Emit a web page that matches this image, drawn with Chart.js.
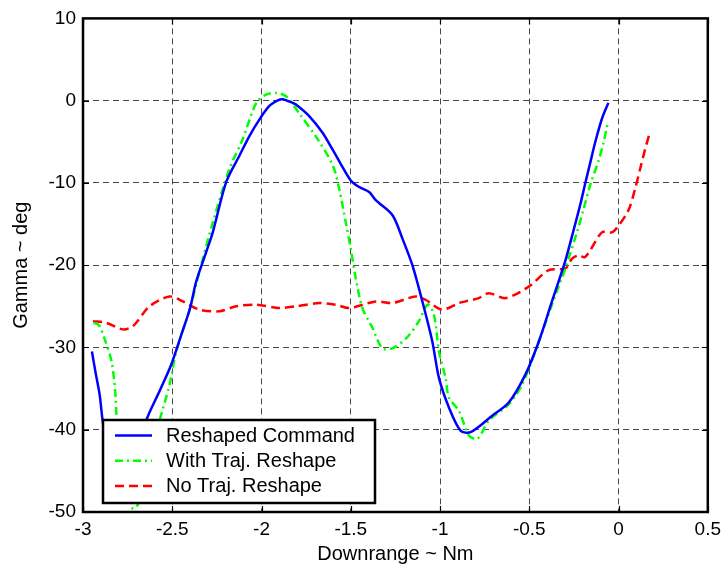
<!DOCTYPE html>
<html>
<head>
<meta charset="utf-8">
<script src="https://cdn.jsdelivr.net/npm/chart.js@4/dist/chart.umd.min.js"></script>
<style>
  html, body { margin: 0; padding: 0; background: #fff; }
  #wrap { width: 727px; height: 568px; }
</style>
</head>
<body>
<div id="wrap"><canvas id="c" width="727" height="568"></canvas></div>
<script>
// ---- data ----
const seriesNames = ['Reshaped Command', 'With Traj. Reshape', 'No Traj. Reshape'];

const cmdX = [-2.95,-2.93,-2.907,-2.89,-2.86,-2.82,-2.78,-2.74,-2.70,-2.646,-2.571,-2.506,-2.45,-2.40,-2.366,-2.31,-2.273,-2.198,-2.124,-2.068,-2.012,-1.956,-1.906,-1.882,-1.826,-1.807,-1.733,-1.658,-1.603,-1.556,-1.50,-1.453,-1.397,-1.36,-1.267,-1.21,-1.155,-1.099,-1.043,-1.006,-0.95,-0.885,-0.829,-0.708,-0.615,-0.522,-0.447,-0.373,-0.30,-0.25,-0.214,-0.186,-0.158,-0.13,-0.093,-0.057];
const cmdY = [-30.5,-33,-35.7,-38.9,-43,-46.3,-47.3,-46.3,-43.5,-38.9,-35.3,-32.1,-28.5,-25.2,-22.0,-18.4,-16.0,-9.9,-6.7,-4.3,-2.3,-0.64,0.06,0.17,-0.27,-0.47,-1.87,-3.9,-5.9,-7.7,-9.7,-10.5,-11.1,-12.1,-13.9,-16.8,-20.0,-24.4,-29.3,-33.7,-37.3,-40.1,-40.3,-38.3,-36.7,-33.3,-29.3,-24.4,-19.6,-15.6,-12.6,-10.0,-7.5,-5.0,-2.2,-0.27];

const withX = [-2.94,-2.91,-2.88,-2.84,-2.82,-2.81,-2.78,-2.75,-2.72,-2.69,-2.65,-2.61,-2.571,-2.515,-2.478,-2.40,-2.348,-2.273,-2.18,-2.106,-2.03,-1.975,-1.919,-1.863,-1.79,-1.685,-1.60,-1.565,-1.528,-1.50,-1.472,-1.435,-1.379,-1.323,-1.267,-1.19,-1.118,-1.07,-1.034,-1.006,-0.969,-0.95,-0.894,-0.838,-0.79,-0.727,-0.615,-0.54,-0.447,-0.373,-0.298,-0.28,-0.233,-0.196,-0.158,-0.112,-0.084,-0.06];
const withY = [-27.0,-27.3,-28.9,-31.7,-35.3,-38.9,-44,-48,-49.6,-49,-46,-42.5,-38.9,-34.5,-30.5,-25.2,-20.8,-14.8,-8.3,-4.7,-0.3,0.74,0.94,0.54,-1.5,-4.7,-7.9,-10.7,-14.8,-18.0,-21.6,-25.2,-27.6,-30.1,-30.1,-28.9,-26.8,-24.8,-26.0,-30.5,-33.7,-36.1,-37.7,-40.7,-41.1,-38.9,-36.9,-34.5,-29.3,-24.8,-20.4,-19.2,-16.0,-13.2,-10.2,-7.3,-5.1,-2.6];

const noX = [-2.944,-2.87,-2.776,-2.72,-2.627,-2.515,-2.44,-2.348,-2.236,-2.143,-2.03,-1.90,-1.807,-1.677,-1.584,-1.509,-1.36,-1.267,-1.137,-1.081,-0.99,-0.894,-0.857,-0.783,-0.727,-0.633,-0.503,-0.391,-0.298,-0.26,-0.224,-0.186,-0.093,-0.037,0.0,0.056,0.093,0.121,0.149,0.172];
const noY = [-26.8,-27.0,-27.8,-27.4,-25.0,-23.8,-24.4,-25.4,-25.6,-25.0,-24.8,-25.2,-25.0,-24.6,-24.8,-25.2,-24.4,-24.6,-23.8,-24.2,-25.4,-24.6,-24.4,-24.0,-23.4,-24.0,-22.6,-20.6,-20.4,-19.2,-18.8,-19.0,-16.0,-16.0,-15.2,-13.3,-10.7,-8.3,-5.9,-4.1];

const xTicks = [-3,-2.5,-2,-1.5,-1,-0.5,0,0.5];
const yTicks = [-50,-40,-30,-20,-10,0,10];
const xTitle = 'Downrange ~ Nm';
const yTitle = 'Gamma ~ deg';

// ---- build ----
const FONT = '"Liberation Sans", Arial, Helvetica, sans-serif';
function pts(xs, ys) { return xs.map((x, i) => ({ x: x, y: ys[i] })); }

const legendPlugin = {
  id: 'insideLegend',
  afterDatasetsDraw(chart) {
    const ctx = chart.ctx;
    const bx = 103, by = 420, bw = 272, bh = 83;
    ctx.save();
    ctx.fillStyle = '#fff';
    ctx.fillRect(bx, by, bw, bh);
    ctx.lineWidth = 2.5;
    ctx.strokeStyle = '#000';
    ctx.strokeRect(bx, by, bw, bh);
    ctx.font = '20px ' + FONT;
    ctx.textBaseline = 'middle';
    ctx.textAlign = 'left';
    chart.data.datasets.forEach((ds, i) => {
      const y = by + 15.5 + i * 25.2;
      ctx.beginPath();
      ctx.setLineDash(ds.borderDash || []);
      ctx.strokeStyle = ds.borderColor;
      ctx.lineWidth = ds.borderWidth;
      ctx.moveTo(115, y);
      ctx.lineTo(152, y);
      ctx.stroke();
      ctx.setLineDash([]);
      ctx.fillStyle = '#000';
      ctx.fillText(ds.label, 166, y + 1);
    });
    ctx.restore();
  }
};

const framePlugin = {
  id: 'frame',
  afterDraw(chart) {
    const ctx = chart.ctx;
    const a = chart.chartArea;
    const xs = chart.scales.x, ys = chart.scales.y;
    ctx.save();
    ctx.strokeStyle = '#000';
    ctx.lineWidth = 1.2;
    ctx.beginPath();
    xTicks.forEach(v => {
      const p = Math.round(xs.getPixelForValue(v)) + 0.5;
      ctx.moveTo(p, a.bottom); ctx.lineTo(p, a.bottom - 6);
      ctx.moveTo(p, a.top); ctx.lineTo(p, a.top + 6);
    });
    yTicks.forEach(v => {
      const p = Math.round(ys.getPixelForValue(v)) + 0.5;
      ctx.moveTo(a.left, p); ctx.lineTo(a.left + 6, p);
      ctx.moveTo(a.right, p); ctx.lineTo(a.right - 6, p);
    });
    ctx.stroke();
    ctx.lineWidth = 2.5;
    ctx.strokeRect(a.left, a.top, a.right - a.left, a.bottom - a.top);
    ctx.restore();
  }
};

const gridCommon = {
  color: 'rgba(40,40,40,0.85)',
  lineWidth: 1,
  drawTicks: false
};

new Chart(document.getElementById('c'), {
  type: 'line',
  data: {
    datasets: [
      { label: seriesNames[0], data: pts(cmdX, cmdY), borderColor: '#0000ff', borderWidth: 2.5, borderDash: [], pointRadius: 0, tension: 0.3, fill: false },
      { label: seriesNames[1], data: pts(withX, withY), borderColor: '#00ff00', borderWidth: 2.5, borderDash: [8, 4, 2, 4], pointRadius: 0, tension: 0.3, fill: false },
      { label: seriesNames[2], data: pts(noX, noY), borderColor: '#ff0000', borderWidth: 2.5, borderDash: [9, 5], pointRadius: 0, tension: 0.3, fill: false }
    ]
  },
  options: {
    responsive: false,
    animation: false,
    events: [],
    layout: { padding: { left: 0, top: 15, right: 16, bottom: 0 } },
    plugins: { legend: { display: false }, tooltip: { enabled: false } },
    scales: {
      x: {
        type: 'linear', min: -3, max: 0.5,
        afterBuildTicks(s) { s.ticks = xTicks.map(v => ({ value: v })); },
        afterFit(s) { s.height = 56; },
        ticks: { color: '#000', font: { family: FONT, size: 19 }, padding: 6, maxRotation: 0, autoSkip: false,
                 callback: v => String(v) },
        grid: gridCommon,
        border: { display: false, dash: [6, 4] },
        title: { display: true, text: xTitle, color: '#000', font: { family: FONT, size: 20 }, padding: { top: 0, bottom: 2 } }
      },
      y: {
        type: 'linear', min: -50, max: 10,
        afterBuildTicks(s) { s.ticks = yTicks.map(v => ({ value: v })); },
        afterFit(s) { s.width = 83; },
        ticks: { color: '#000', font: { family: FONT, size: 19 }, padding: 7, autoSkip: false,
                 callback: v => String(v) },
        grid: gridCommon,
        border: { display: false, dash: [6, 4] },
        title: { display: true, text: yTitle, color: '#000', font: { family: FONT, size: 20 }, padding: { top: 9, bottom: 0 } }
      }
    }
  },
  plugins: [legendPlugin, framePlugin]
});
</script>
</body>
</html>
